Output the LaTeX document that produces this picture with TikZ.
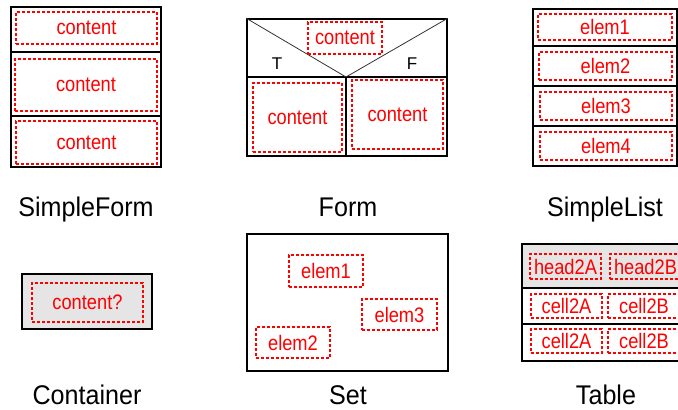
\documentclass[tikz,border=0pt]{standalone}
\usepackage{fontspec}
\usepackage{graphicx}
\setmainfont{Liberation Sans}
\newcommand\ctxt[1]{\scalebox{0.87}[1]{\fontsize{21}{24}\selectfont #1}}
\newcommand\ltxt[1]{\scalebox{0.93}[1]{\fontsize{27}{30}\selectfont #1}}
\begin{document}
\begin{tikzpicture}[x=1pt,y=-1pt,
  obox/.style={draw=black,line width=1.5pt,inner sep=0pt},
  dbox/.style={draw=red,dash pattern=on 3pt off 2pt,line width=1.3pt,text=red,inner sep=0pt},
  sepline/.style={draw=black,line width=1.1pt},
  thinline/.style={draw=black!80,line width=0.8pt},
  lbl/.style={inner sep=0pt,text=black,anchor=base},
  tf/.style={inner sep=0pt,anchor=base,font=\fontsize{17}{19}\selectfont}]
\useasboundingbox (0,0) rectangle (678,410);
\clip (0,0) rectangle (678,410);

% ---------- SimpleForm ----------
\node[obox,minimum width=150pt,minimum height=160pt] (sf) at (86,87) {};
\draw[sepline] (sf.west |- 0,52) -- (sf.east |- 0,52);
\draw[sepline] (sf.west |- 0,116) -- (sf.east |- 0,116);
\node[dbox,minimum width=141pt,minimum height=32pt] (sf1) at (86.5,28) {\ctxt{content}};
\node[dbox,minimum width=142pt,minimum height=52pt] (sf2) at (86,85) {\ctxt{content}};
\node[dbox,minimum width=141pt,minimum height=43pt] (sf3) at (86.5,142.5) {\ctxt{content}};
\node[lbl] (sfl) at (86,216) {\ltxt{SimpleForm}};

% ---------- Form ----------
\node[obox,minimum width=200pt,minimum height=137pt] (fm) at (347,87.5) {};
\coordinate (apex) at (346,77);
\draw[sepline] (fm.west |- apex) -- (fm.east |- apex);
\draw[thinline] (fm.north west) -- (apex) -- (fm.north east);
\draw[sepline] (apex) -- (apex |- fm.south);
\node[dbox,minimum width=74pt,minimum height=32pt] (fmc) at (345,38) {\ctxt{content}};
\node[tf] (fmt) at (277,69.5) {T};
\node[tf] (fmf) at (412,69.5) {F};
\node[dbox,minimum width=89pt,minimum height=69pt] (fml) at (297.5,117.5) {\ctxt{content}};
\node[dbox,minimum width=91pt,minimum height=69pt] (fmr) at (397.5,114.5) {\ctxt{content}};
\node[lbl] (fmlab) at (348,216) {\ltxt{Form}};

% ---------- SimpleList ----------
\node[obox,minimum width=144pt,minimum height=157pt] (sl) at (605,87.5) {};
\foreach \yy in {46,86,126} \draw[sepline] (sl.west |- 0,\yy) -- (sl.east |- 0,\yy);
\node[dbox,minimum width=134pt,minimum height=26pt] (sl1) at (605,27) {\ctxt{elem1}};
\node[dbox,minimum width=133pt,minimum height=28pt] (sl2) at (605.5,66) {\ctxt{elem2}};
\node[dbox,minimum width=132pt,minimum height=28pt] (sl3) at (606,106) {\ctxt{elem3}};
\node[dbox,minimum width=132pt,minimum height=28pt] (sl4) at (606,146) {\ctxt{elem4}};
\node[lbl] (sllab) at (605,216) {\ltxt{SimpleList}};

% ---------- Container ----------
\node[obox,fill=black!10,minimum width=130pt,minimum height=55pt] (ct) at (87,301.5) {};
\node[dbox,minimum width=111pt,minimum height=39pt] (ctc) at (87.5,302.5) {\ctxt{content?}};
\node[lbl] (ctlab) at (87,404) {\ltxt{Container}};

% ---------- Set ----------
\node[obox,minimum width=201pt,minimum height=137pt] (st) at (347.5,302.5) {};
\node[dbox,minimum width=74pt,minimum height=32pt] (st1) at (326,271) {\ctxt{elem1}};
\node[dbox,minimum width=75pt,minimum height=31pt] (st3) at (399.5,314.5) {\ctxt{elem3}};
\node[dbox,minimum width=74pt,minimum height=31pt] (st2) at (293,342.5) {\ctxt{elem2}};
\node[lbl] (stlab) at (348,404) {\ltxt{Set}};

% ---------- Table ----------
\node[obox,fill=black!10,minimum width=170pt,minimum height=44pt] (th) at (607,266) {};
\node[obox,minimum width=170pt,minimum height=73pt] (tb) at (607,324.5) {};
\draw[sepline] (tb.west |- 0,324) -- (tb.east |- 0,324);
\node[dbox,minimum width=71pt,minimum height=25pt] (h2a) at (565.5,266.5) {\ctxt{head2A}};
\node[dbox,minimum width=71pt,minimum height=25pt] (h2b) at (645.5,266.5) {\ctxt{head2B}};
\node[dbox,minimum width=71pt,minimum height=24pt] (c1a) at (566.5,306) {\ctxt{cell2A}};
\node[dbox,minimum width=72pt,minimum height=24pt] (c1b) at (644,306) {\ctxt{cell2B}};
\node[dbox,minimum width=71pt,minimum height=24pt] (c2a) at (566.5,341) {\ctxt{cell2A}};
\node[dbox,minimum width=72pt,minimum height=24pt] (c2b) at (644,341) {\ctxt{cell2B}};
\node[lbl] (tblab) at (606,404) {\ltxt{Table}};
\end{tikzpicture}
\end{document}
